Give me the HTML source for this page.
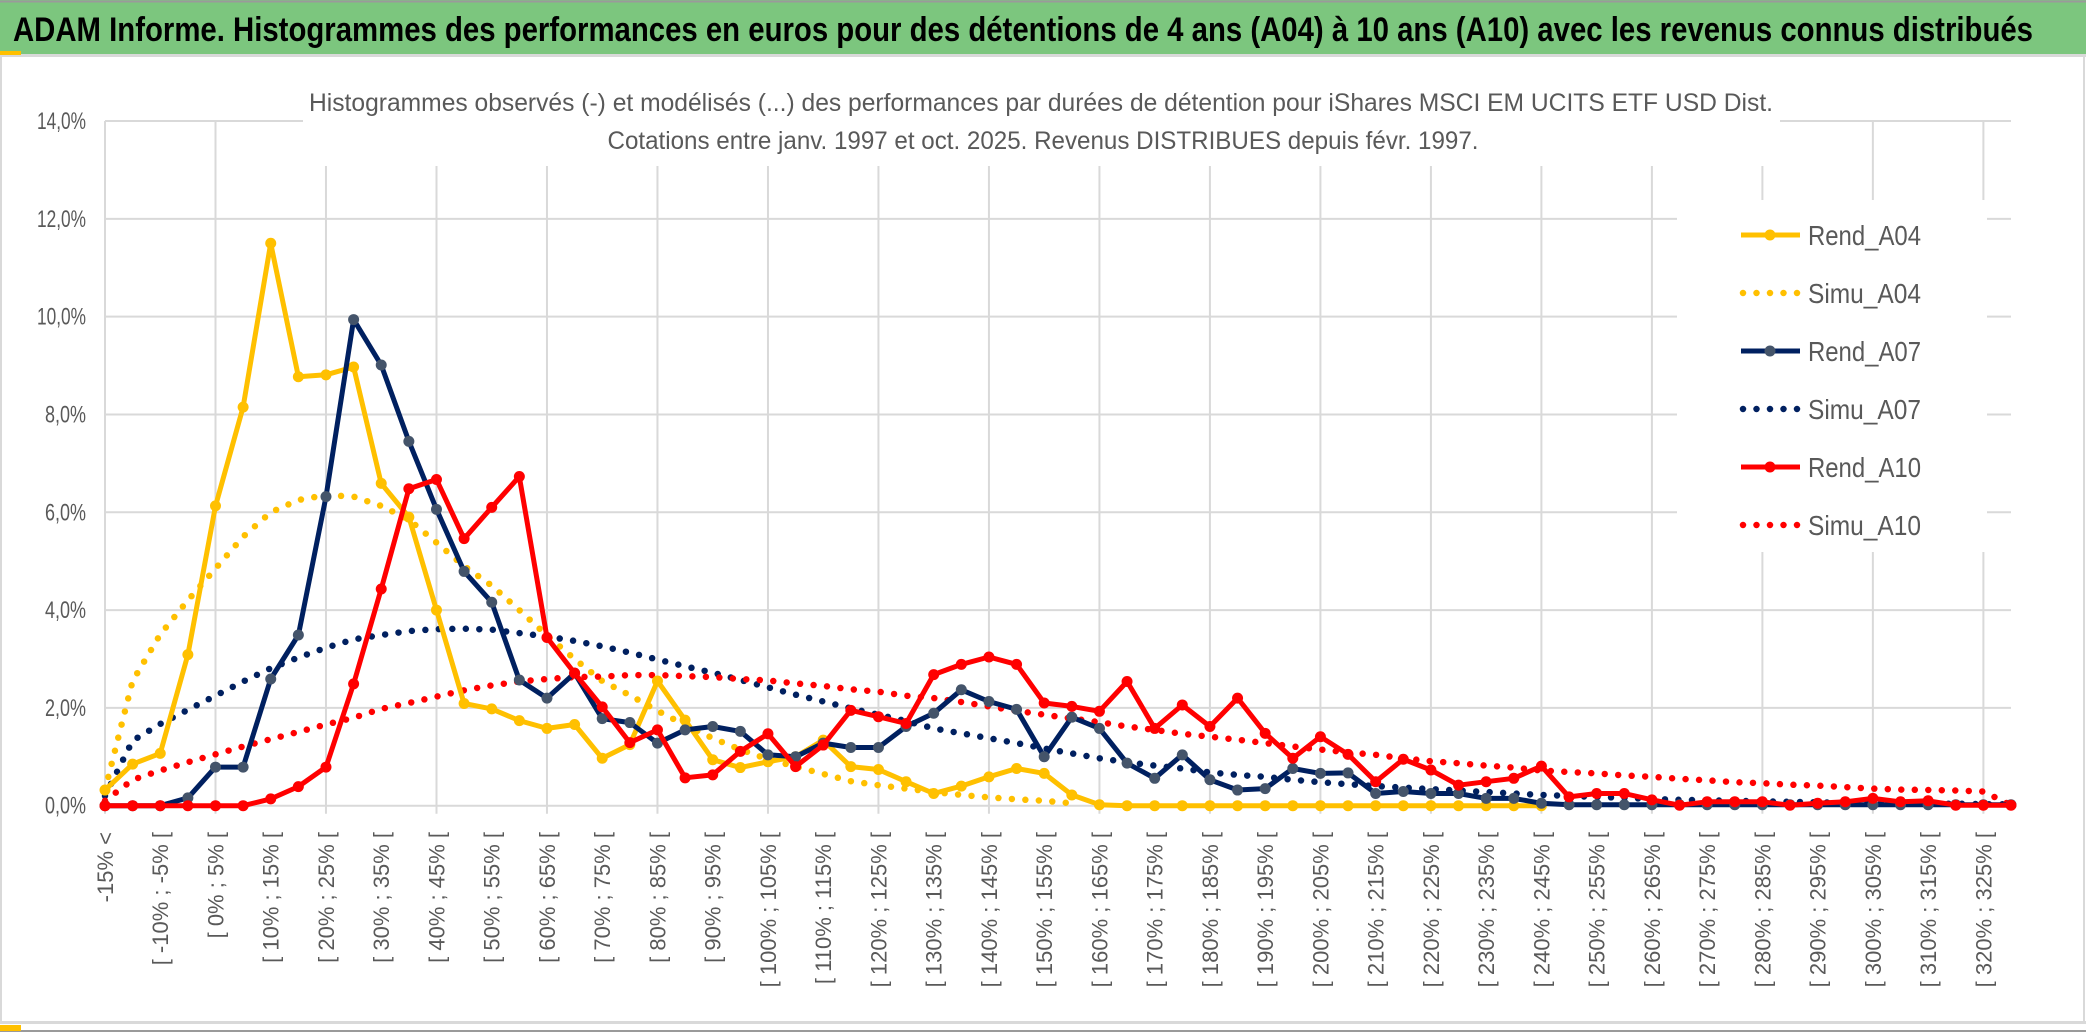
<!DOCTYPE html>
<html><head><meta charset="utf-8"><style>
html,body{margin:0;padding:0;background:#fff;}
svg{display:block;font-family:"Liberation Sans",sans-serif;}
</style></head><body>
<svg id="chart" width="2086" height="1033" viewBox="0 0 2086 1033" xmlns="http://www.w3.org/2000/svg">
<rect x="0" y="0" width="2086" height="1033" fill="#fff"/>
<rect x="0" y="0" width="2086" height="54" fill="#7CC67E"/>
<line x1="0" y1="1.5" x2="2086" y2="1.5" stroke="#9a9a9a" stroke-width="2"/>
<rect x="0" y="54" width="2086" height="3" fill="#d9d9d9"/>
<rect x="0" y="51" width="21" height="4" fill="#FFC000"/>
<text x="13" y="41" font-size="34" font-weight="bold" fill="#000" textLength="2020" lengthAdjust="spacingAndGlyphs">ADAM Informe. Histogrammes des performances en euros pour des détentions de 4 ans (A04) à 10 ans (A10) avec les revenus connus distribués</text>
<line x1="1" y1="57" x2="1" y2="1023" stroke="#d9d9d9" stroke-width="2"/>
<line x1="2084" y1="57" x2="2084" y2="1023" stroke="#d9d9d9" stroke-width="2"/>
<rect x="0" y="1021" width="2086" height="3" fill="#d9d9d9"/>
<line x1="0" y1="1031" x2="2086" y2="1031" stroke="#9a9a9a" stroke-width="2"/>
<rect x="0" y="1025" width="21" height="6" fill="#FFC000"/>
<g id="grid"></g>
<rect x="303" y="74" width="1477" height="92" fill="#fff"/>
<rect x="1677" y="200" width="310" height="352" fill="#fff"/>
<text x="1041" y="111" font-size="25" fill="#595959" text-anchor="middle" textLength="1464" lengthAdjust="spacingAndGlyphs">Histogrammes observés (-) et modélisés (...) des performances par durées de détention pour iShares MSCI EM UCITS ETF USD Dist.</text>
<text x="1043" y="149" font-size="25" fill="#595959" text-anchor="middle" textLength="871" lengthAdjust="spacingAndGlyphs">Cotations entre janv. 1997 et oct. 2025. Revenus DISTRIBUES depuis févr. 1997.</text>
<g id="yaxis"></g>
<g id="xaxis"></g>
<g id="series"></g>
<g id="legend"></g>
</svg>
<script>
const yTicks = [0, 2, 4, 6, 8, 10, 12, 14];
const yTickLabels = ["0,0%", "2,0%", "4,0%", "6,0%", "8,0%", "10,0%", "12,0%", "14,0%"];
const xTickLabels = ["-15% <", "[ -10% ; -5% [", "[ 0% ; 5% [", "[ 10% ; 15% [", "[ 20% ; 25% [", "[ 30% ; 35% [", "[ 40% ; 45% [", "[ 50% ; 55% [", "[ 60% ; 65% [", "[ 70% ; 75% [", "[ 80% ; 85% [", "[ 90% ; 95% [", "[ 100% ; 105% [", "[ 110% ; 115% [", "[ 120% ; 125% [", "[ 130% ; 135% [", "[ 140% ; 145% [", "[ 150% ; 155% [", "[ 160% ; 165% [", "[ 170% ; 175% [", "[ 180% ; 185% [", "[ 190% ; 195% [", "[ 200% ; 205% [", "[ 210% ; 215% [", "[ 220% ; 225% [", "[ 230% ; 235% [", "[ 240% ; 245% [", "[ 250% ; 255% [", "[ 260% ; 265% [", "[ 270% ; 275% [", "[ 280% ; 285% [", "[ 290% ; 295% [", "[ 300% ; 305% [", "[ 310% ; 315% [", "[ 320% ; 325% ["];
const categoryCount = 70;
const rendA04 = [0.32,0.85,1.07,3.09,6.13,8.15,11.5,8.77,8.81,8.97,6.59,5.9,4.0,2.09,1.98,1.74,1.58,1.66,0.97,1.25,2.55,1.75,0.94,0.78,0.9,1.0,1.34,0.8,0.74,0.49,0.25,0.4,0.59,0.76,0.66,0.22,0.02,0,0,0,0,0,0,0,0,0,0,0,0,0,0,0,0];
const simuA04 = [0.32,2.55,3.5,4.2,4.85,5.5,6.0,6.25,6.35,6.32,6.13,5.85,5.38,4.9,4.5,4.0,3.48,3.0,2.55,2.26,1.94,1.65,1.38,1.15,0.95,0.8,0.65,0.5,0.42,0.35,0.28,0.22,0.17,0.13,0.1,0.05];
const rendA07 = [0,0,0,0.16,0.79,0.79,2.59,3.49,6.32,9.94,9.01,7.45,6.06,4.79,4.16,2.57,2.2,2.71,1.78,1.7,1.28,1.55,1.62,1.52,1.04,1.0,1.28,1.19,1.19,1.62,1.89,2.37,2.13,1.97,1.0,1.81,1.58,0.87,0.56,1.04,0.53,0.32,0.35,0.76,0.66,0.67,0.25,0.29,0.25,0.25,0.15,0.15,0.05,0.02,0.02,0.02,0.02,0.02,0.02,0.02,0.02,0.02,0.02,0.02,0.02,0.02,0.02,0.02,0.02,0.02];
const simuA07 = [0.2,1.33,1.67,1.96,2.25,2.54,2.81,3.03,3.23,3.4,3.49,3.57,3.61,3.62,3.6,3.53,3.46,3.37,3.26,3.13,2.99,2.85,2.72,2.57,2.42,2.27,2.13,1.99,1.86,1.73,1.58,1.48,1.38,1.28,1.17,1.07,0.97,0.89,0.82,0.76,0.68,0.63,0.59,0.53,0.48,0.44,0.4,0.37,0.34,0.31,0.28,0.25,0.22,0.2,0.18,0.16,0.14,0.12,0.11,0.1,0.09,0.08,0.07,0.06,0.05,0.05,0.04,0.04,0.03,0.03];
const rendA10 = [0,0,0,0,0,0,0.14,0.39,0.79,2.49,4.43,6.48,6.67,5.46,6.1,6.73,3.44,2.71,2.02,1.29,1.55,0.57,0.63,1.11,1.47,0.8,1.24,1.95,1.82,1.68,2.68,2.89,3.04,2.89,2.1,2.03,1.93,2.54,1.58,2.06,1.62,2.2,1.48,0.97,1.41,1.05,0.49,0.95,0.73,0.42,0.49,0.56,0.81,0.18,0.25,0.25,0.12,0.01,0.08,0.08,0.08,0.01,0.05,0.08,0.15,0.08,0.1,0.01,0.01,0.01];
const simuA10 = [0.1,0.53,0.72,0.89,1.05,1.21,1.36,1.51,1.66,1.8,1.98,2.1,2.23,2.36,2.46,2.54,2.59,2.63,2.64,2.67,2.67,2.65,2.63,2.59,2.56,2.5,2.45,2.38,2.33,2.25,2.2,2.12,2.03,1.94,1.86,1.78,1.71,1.62,1.55,1.47,1.41,1.35,1.28,1.21,1.15,1.09,1.04,0.97,0.91,0.87,0.82,0.78,0.72,0.69,0.66,0.62,0.59,0.55,0.52,0.48,0.46,0.43,0.41,0.38,0.35,0.33,0.32,0.31,0.29,0.01];

const NS = "http://www.w3.org/2000/svg";
const X0 = 105, X1 = 2011, Y0 = 805.7, YTOP = 121;
const yMax = 14;
function xPos(i){ return X0 + i * (X1 - X0) / (categoryCount - 1); }
function yPos(v){ return Y0 - v * (Y0 - YTOP) / yMax; }
function mk(tag, attrs, parent){ const e = document.createElementNS(NS, tag); for (const k in attrs) e.setAttribute(k, attrs[k]); parent.appendChild(e); return e; }

const grid = document.getElementById('grid');
yTicks.forEach(function(t){
  const l = mk('line', {x1: X0, x2: X1, y1: yPos(t), y2: yPos(t), stroke: '#D9D9D9', 'stroke-width': 2}, grid);
  
  
});
for (let i = 0; i < categoryCount; i += 4) {
  const l = mk('line', {x1: xPos(i), x2: xPos(i), y1: yPos(yMax), y2: Y0 + 8, stroke: '#D9D9D9', 'stroke-width': 2}, grid);
  
  
}
const yaxis = document.getElementById('yaxis');
yTicks.forEach(function(t, k){
  const tx = mk('text', {x: 86, y: yPos(t) + 8, 'font-size': 24, fill: '#595959', 'text-anchor': 'end', textLength: yTickLabels[k].length >= 5 ? 49 : 41, lengthAdjust: 'spacingAndGlyphs'}, yaxis);
  tx.textContent = yTickLabels[k];
  
  
});
const xaxis = document.getElementById('xaxis');
xTickLabels.forEach(function(lab, k){
  const x = xPos(k * 2) + 8, y = 832;
  const tx = mk('text', {x: x, y: y, 'font-size': 22, fill: '#595959', 'text-anchor': 'end', transform: 'rotate(-90 ' + x + ' ' + y + ')'}, xaxis);
  tx.textContent = lab;
  
  
});

const series = document.getElementById('series');
function pts(arr){ return arr.map(function(v, i){ return xPos(i).toFixed(1) + ',' + yPos(v).toFixed(1); }).join(' '); }
function dotted(arr, color, name){
  const p = mk('polyline', {points: pts(arr), fill: 'none', stroke: color, 'stroke-width': 6.5, 'stroke-linecap': 'round', 'stroke-dasharray': '0 13.5'}, series);
  
  
}
function solid(arr, color, marker, name){
  const g = mk('g', {}, series);
  
  
  const p = mk('polyline', {points: pts(arr), fill: 'none', stroke: color, 'stroke-width': 5, 'stroke-linejoin': 'round'}, g);
  
  
  arr.forEach(function(v, i){
    const c = mk('circle', {cx: xPos(i), cy: yPos(v), r: 5.5, fill: marker}, g);
    
    
  });
}
dotted(simuA04, '#FFC000', 'simu-a04-line');
dotted(simuA07, '#002060', 'simu-a07-line');
dotted(simuA10, '#FF0000', 'simu-a10-line');
solid(rendA04, '#FFC000', '#FFC000', 'rend-a04');
solid(rendA07, '#002060', '#44546A', 'rend-a07');
solid(rendA10, '#FF0000', '#FF0000', 'rend-a10');

const legendNames = ["Rend_A04", "Simu_A04", "Rend_A07", "Simu_A07", "Rend_A10", "Simu_A10"];
const legendColors = ['#FFC000', '#FFC000', '#002060', '#002060', '#FF0000', '#FF0000'];
const legendMarkers = ['#FFC000', null, '#44546A', null, '#FF0000', null];
const legend = document.getElementById('legend');
legendNames.forEach(function(n, k){
  const y = 235 + k * 58;
  const g = mk('g', {}, legend);
  
  
  if (legendMarkers[k]) {
    mk('line', {x1: 1741, x2: 1800, y1: y, y2: y, stroke: legendColors[k], 'stroke-width': 5}, g);
    mk('circle', {cx: 1770, cy: y, r: 5.5, fill: legendMarkers[k]}, g);
  } else {
    mk('line', {x1: 1743, x2: 1800, y1: y, y2: y, stroke: legendColors[k], 'stroke-width': 6.5, 'stroke-linecap': 'round', 'stroke-dasharray': '0 13.5'}, g);
  }
  const t = mk('text', {x: 1808, y: y + 10, 'font-size': 28, fill: '#595959', textLength: 113, lengthAdjust: 'spacingAndGlyphs'}, g);
  t.textContent = n;
});
</script>
</body></html>
